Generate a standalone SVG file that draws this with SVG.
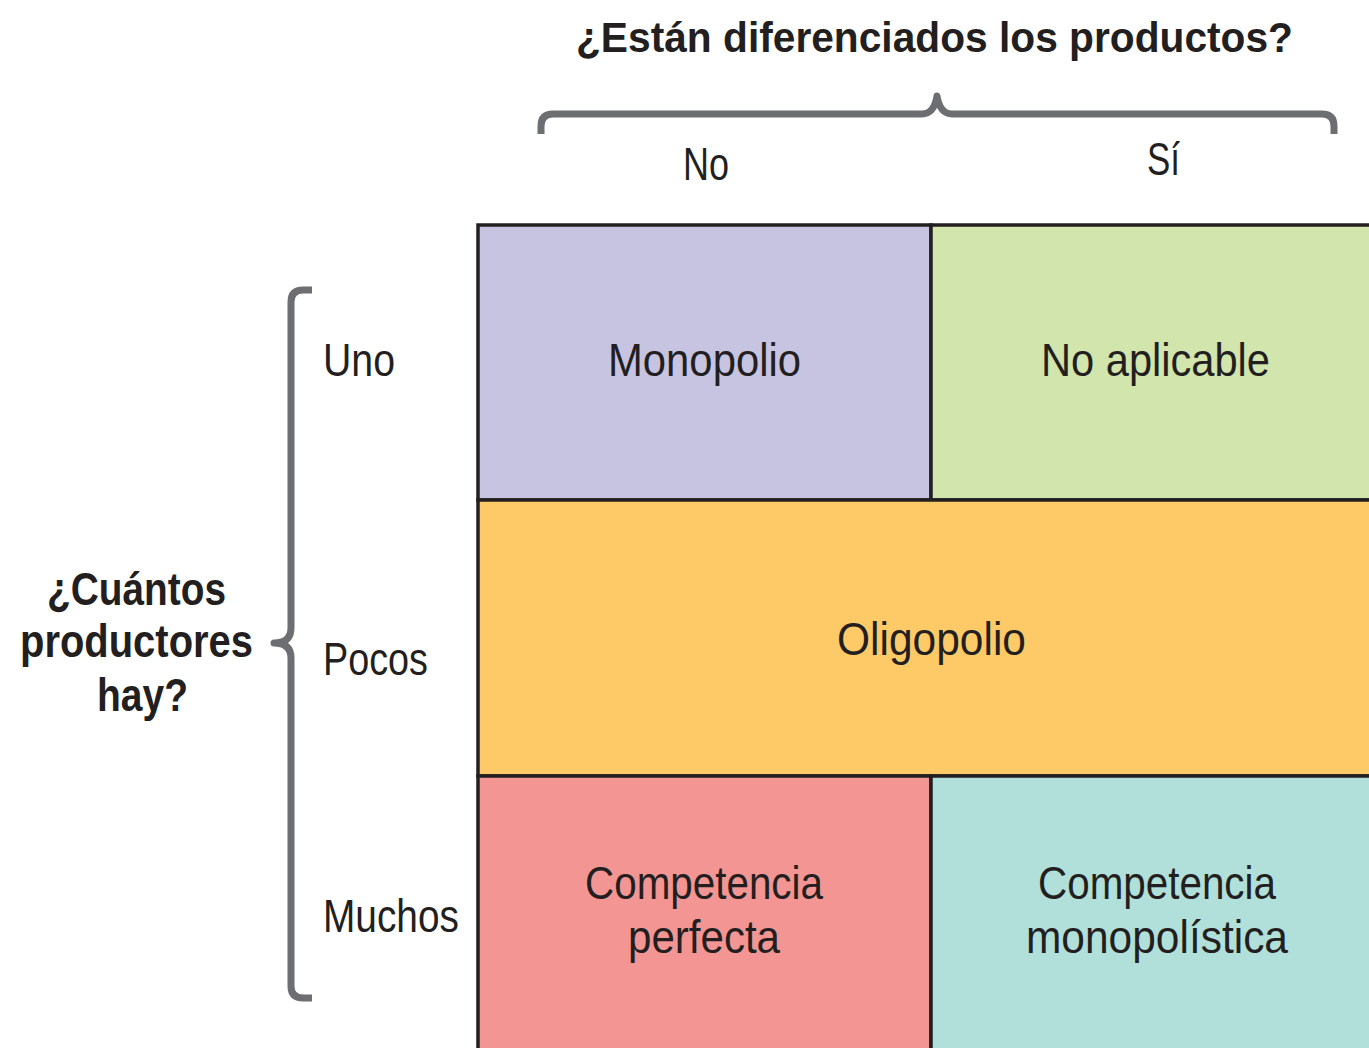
<svg xmlns="http://www.w3.org/2000/svg" width="1369" height="1048" viewBox="0 0 1369 1048">
<style>
.t{font-family:"Liberation Sans",Arial,sans-serif;fill:#231f20;font-size:47px}
.b{font-weight:bold;font-size:46px}
.h{font-size:43px}
.cell{stroke:#231f20;stroke-width:3.5}
.brace{fill:none;stroke:#6d6e71;stroke-width:7;stroke-linecap:butt;stroke-linejoin:round}
</style>
<rect width="1369" height="1048" fill="#ffffff"/>
<g id="title"><text class="t b h" x="576" y="52" textLength="717" lengthAdjust="spacingAndGlyphs">¿Están diferenciados los productos?</text></g>
<g id="connectors">
<path class="brace" d="M541 134 L541 126 Q541 114 553 114 L922 114 Q934 114 937 96 Q940 114 952 114 L1322 114 Q1334 114 1334 126 L1334 134"/>
<path class="brace" d="M312 290 L303 290 Q291 290 291 302 L291 628 Q291 643 274 643 Q291 643 291 658 L291 986 Q291 998 303 998 L312 998"/>
</g>
<g id="col-no"><text class="t" x="683" y="180" textLength="46" lengthAdjust="spacingAndGlyphs">No</text></g>
<g id="col-si"><text class="t" x="1147" y="175" textLength="33" lengthAdjust="spacingAndGlyphs">Sí</text></g>
<g id="question-left">
<text class="t b" x="47" y="605" textLength="179" lengthAdjust="spacingAndGlyphs">¿Cuántos</text>
<text class="t b" x="20" y="657" textLength="233" lengthAdjust="spacingAndGlyphs">productores</text>
<text class="t b" x="97" y="711" textLength="91" lengthAdjust="spacingAndGlyphs">hay?</text>
</g>
<g id="row-uno"><text class="t" x="323" y="376" textLength="72" lengthAdjust="spacingAndGlyphs">Uno</text></g>
<g id="row-pocos"><text class="t" x="323" y="675" textLength="105" lengthAdjust="spacingAndGlyphs">Pocos</text></g>
<g id="row-muchos"><text class="t" x="323" y="932" textLength="136" lengthAdjust="spacingAndGlyphs">Muchos</text></g>
<g id="monopolio">
<rect class="cell" x="478" y="225" width="453" height="275" fill="#c7c4e2"/>
<text class="t" x="608" y="376" textLength="193" lengthAdjust="spacingAndGlyphs">Monopolio</text>
</g>
<g id="no-aplicable">
<rect class="cell" x="931" y="225" width="440" height="275" fill="#d1e5ad"/>
<text class="t" x="1041" y="376" textLength="229" lengthAdjust="spacingAndGlyphs">No aplicable</text>
</g>
<g id="oligopolio">
<rect class="cell" x="478" y="500" width="893" height="276" fill="#fdca67"/>
<text class="t" x="837" y="655" textLength="189" lengthAdjust="spacingAndGlyphs">Oligopolio</text>
</g>
<g id="competencia-perfecta">
<rect class="cell" x="478" y="776" width="453" height="275" fill="#f29593"/>
<text class="t" x="585" y="899" textLength="238" lengthAdjust="spacingAndGlyphs">Competencia</text>
<text class="t" x="628" y="953" textLength="152" lengthAdjust="spacingAndGlyphs">perfecta</text>
</g>
<g id="competencia-monopolistica">
<rect class="cell" x="931" y="776" width="440" height="275" fill="#b1dfda"/>
<text class="t" x="1038" y="899" textLength="238" lengthAdjust="spacingAndGlyphs">Competencia</text>
<text class="t" x="1026" y="953" textLength="262" lengthAdjust="spacingAndGlyphs">monopolística</text>
</g>
</svg>
